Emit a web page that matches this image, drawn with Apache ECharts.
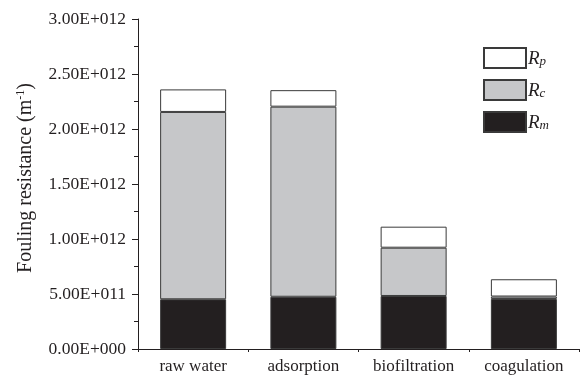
<!DOCTYPE html>
<html>
<head>
<meta charset="utf-8">
<script src="https://cdn.jsdelivr.net/npm/echarts@6/dist/echarts.min.js"></script>
<style>
  html, body { margin: 0; padding: 0; background: #fff; }
  #chart { width: 584px; height: 378px; }
</style>
</head>
<body>
<div id="chart"></div>
<script>
// Treatment processes along the x axis
const categories = ['raw water', 'adsorption', 'biofiltration', 'coagulation'];

// Fouling resistance components (m^-1), stacked bottom to top: Rm, Rc, Rp
const rm = [4.52e11, 4.75e11, 4.82e11, 4.55e11];
const rc = [1.703e12, 1.728e12, 4.39e11, 2.2e10];
const rp = [2.05e11, 1.50e11, 1.91e11, 1.57e11];

// Y axis range and step
const yMin = 0;
const yMax = 3e12;
const yStep = 5e11;

const FONT = '"Liberation Serif", "DejaVu Serif", serif';
const INK = '#231f20';

// Format as e.g. 2.50E+012 (three-digit exponent)
function sci(v) {
  const s = Number(v).toExponential(2);
  const [mant, exp] = s.split('e');
  const sign = exp[0] === '-' ? '-' : '+';
  const digits = exp.replace(/[+-]/, '').padStart(3, '0');
  return mant + 'E' + sign + digits;
}

const subs = { Rp: 'p', Rc: 'c', Rm: 'm' };

const chart = echarts.init(document.getElementById('chart'), null, { renderer: 'canvas' });

const barStyle = (color) => ({ color: color, borderColor: '#3a3a3a', borderWidth: 1 });

chart.setOption({
  animation: false,
  backgroundColor: '#fff',
  textStyle: { fontFamily: FONT, color: INK },
  grid: { left: 138, right: 5, top: 19, bottom: 29, containLabel: false },
  legend: {
    orient: 'vertical',
    left: 478,
    top: 42,
    itemWidth: 42,
    itemHeight: 20,
    itemGap: 10,
    icon: 'rect',
    data: ['Rp', 'Rc', 'Rm'],
    formatter: (name) => '{r|R}{s|' + subs[name] + '}',
    textStyle: {
      fontFamily: FONT,
      color: INK,
      padding: [0, 0, 0, -3],
      rich: {
        r: { fontFamily: FONT, fontStyle: 'italic', fontSize: 19, color: INK, verticalAlign: 'bottom', lineHeight: 20 },
        s: { fontFamily: FONT, fontStyle: 'italic', fontSize: 13, color: INK, verticalAlign: 'bottom', lineHeight: 14, padding: [8, 0, 0, 0] }
      }
    }
  },
  xAxis: [
    {
      type: 'category',
      data: categories,
      axisLine: { lineStyle: { color: INK, width: 1 } },
      axisTick: { alignWithLabel: true, length: 6, lineStyle: { color: INK } },
      axisLabel: { fontFamily: FONT, fontSize: 17, color: INK, margin: 9 },
      splitLine: { show: false }
    },
    {
      // Boundary ticks between categories
      type: 'category',
      data: categories,
      position: 'bottom',
      axisLine: { show: false },
      axisTick: { show: true, length: 3, lineStyle: { color: INK } },
      axisLabel: { show: false },
      splitLine: { show: false }
    }
  ],
  yAxis: {
    type: 'value',
    min: yMin,
    max: yMax,
    interval: yStep,
    name: 'Fouling resistance (m{sup|-1})',
    nameLocation: 'middle',
    nameGap: 101,
    nameTextStyle: {
      fontFamily: FONT,
      fontSize: 20,
      color: INK,
      padding: [0, 0, 0, 12],
      rich: {
        sup: { fontFamily: FONT, fontSize: 12, color: INK, padding: [0, 0, 10, 0] }
      }
    },
    axisLine: { show: true, lineStyle: { color: INK, width: 1 } },
    axisTick: { show: true, length: 6, lineStyle: { color: INK } },
    minorTick: { show: true, splitNumber: 2, length: 4, lineStyle: { color: INK } },
    axisLabel: { fontFamily: FONT, fontSize: 17.5, color: INK, margin: 12, formatter: sci },
    splitLine: { show: false }
  },
  series: [
    { name: 'Rm', type: 'bar', stack: 'r', data: rm, barWidth: 66, itemStyle: barStyle('#231f20') },
    { name: 'Rc', type: 'bar', stack: 'r', data: rc, barWidth: 66, itemStyle: barStyle('#c6c7c9') },
    { name: 'Rp', type: 'bar', stack: 'r', data: rp, barWidth: 66, itemStyle: barStyle('#ffffff') }
  ]
});
</script>
</body>
</html>
